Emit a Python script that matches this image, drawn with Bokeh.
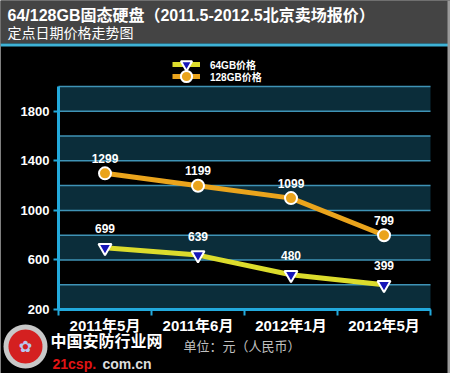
import math
from bokeh.plotting import figure
from bokeh.models import Range1d, FixedTicker, Label, BoxAnnotation, PolyAnnotation, Legend, LegendItem
from bokeh.core.properties import value
from bokeh.embed import file_html
from bokeh.resources import INLINE

# ---- data ----
categories = ["2011年5月", "2011年6月", "2012年1月", "2012年5月"]
price_64 = [699, 639, 480, 399]
price_128 = [1299, 1199, 1099, 799]
series_names = ["64GB价格", "128GB价格"]
y_tick_values = [200, 600, 1000, 1400, 1800]
grid_values = [200, 400, 600, 800, 1000, 1200, 1400, 1600, 1800, 2000]
title_text = "64/128GB固态硬盘（2011.5-2012.5北京卖场报价）"
subtitle_text = "定点日期价格走势图"
unit_text = "单位：元（人民币）"
site_name = "中国安防行业网"
site_url_a = "21csp."
site_url_b = "com.cn"

# ---- layout (pixels) & style ----
W, H = 450, 373
PL, PR, PT, PB = 58, 430, 86, 309          # plot-area box in canvas px
Y0, Y1 = grid_values[0], grid_values[-1]
CJK = "Liberation Sans, Noto Sans CJK SC"
TEAL = "#0b2d3a"
CYAN = "#22a9dc"
GRID = "#3f93b6"
YEL = "#dcdc2c"
ORG = "#eaa41c"

n = len(categories)
xs = [i + 0.5 for i in range(n)]
xpx = (PR - PL) / n
ypx = (PB - PT) / (Y1 - Y0)
x_range = Range1d(-PL / xpx, n + (W - PR) / xpx)
y_range = Range1d(Y0 - (H - PB) / ypx, Y1 + PT / ypx)

p = figure(width=W, height=H, x_range=x_range, y_range=y_range,
           output_backend="svg", toolbar_location=None,
           min_border_left=0, min_border_right=0, min_border_top=0, min_border_bottom=0,
           background_fill_color="black", border_fill_color="black", outline_line_color=None)
p.title.visible = False
p.xgrid.visible = False
p.ygrid.visible = False

# alternating bands + grid lines of the plot area
band_bottoms = grid_values[0::2]
band_tops = grid_values[1::2]
p.quad(left=0, right=n, bottom=band_bottoms, top=band_tops, fill_color=TEAL, line_color=None)
p.segment(x0=0, x1=n, y0=grid_values, y1=grid_values, line_color=GRID, line_width=1.5)

# y axis
ya = p.yaxis[0]
ya.fixed_location = 0
ya.bounds = (Y0, Y1)
ya.ticker = FixedTicker(ticks=y_tick_values)
ya.axis_line_color = CYAN
ya.axis_line_width = 3
ya.major_tick_line_color = CYAN
ya.major_tick_line_width = 2
ya.major_tick_out = 5
ya.major_tick_in = 0
ya.minor_tick_line_color = None
ya.major_label_text_color = "white"
ya.major_label_text_font = "Liberation Sans"
ya.major_label_text_font_style = "bold"
ya.major_label_text_font_size = "13px"
ya.major_label_standoff = 4

# x axis
xa = p.xaxis[0]
xa.fixed_location = Y0
xa.bounds = (0, n)
xa.ticker = FixedTicker(ticks=xs, minor_ticks=list(range(n + 1)))
xa.major_label_overrides = {x: c for x, c in zip(xs, categories)}
xa.axis_line_color = CYAN
xa.axis_line_width = 3
xa.major_tick_line_color = None
xa.major_tick_out = 0
xa.major_tick_in = 0
xa.minor_tick_line_color = CYAN
xa.minor_tick_line_width = 2
xa.minor_tick_out = 6
xa.minor_tick_in = 0
xa.major_label_text_color = "white"
xa.major_label_text_font = CJK
xa.major_label_text_font_style = "bold"
xa.major_label_text_font_size = "15px"
xa.major_label_standoff = 1

# series
l64 = p.line(xs, price_64, line_color=YEL, line_width=5)
m64 = p.scatter(xs, price_64, marker="inverted_triangle", size=13, fill_color="#1616b8",
                line_color="white", line_width=2)
l128 = p.line(xs, price_128, line_color=ORG, line_width=5)
m128 = p.scatter(xs, price_128, marker="circle", size=12, fill_color=ORG,
                 line_color="white", line_width=2)

p.text(xs, price_64, text=[str(v) for v in price_64], text_color="white",
       text_font=value("Liberation Sans"), text_font_style="bold", text_font_size="12px",
       text_align="center", text_baseline="middle", y_offset=-19)
p.text(xs, price_128, text=[str(v) for v in price_128], text_color="white",
       text_font=value("Liberation Sans"), text_font_style="bold", text_font_size="12px",
       text_align="center", text_baseline="middle", y_offset=-15)

# legend: one single-item legend per series so rows can sit close together
for name, rends, cy in ((series_names[0], [l64, m64], 64), (series_names[1], [l128, m128], 76)):
    p.add_layout(Legend(items=[LegendItem(label=name, renderers=rends)],
                        location=(172, H - cy - 15), padding=0, spacing=0, margin=0,
                        glyph_width=28, glyph_height=30, label_height=30, label_standoff=10,
                        label_text_color="white", label_text_font=CJK, label_text_font_style="bold",
                        label_text_font_size="10px", background_fill_alpha=0, border_line_color=None))


def box(left, right, top, bottom, color):
    p.add_layout(BoxAnnotation(left=left, right=right, top=top, bottom=bottom,
                               left_units="canvas", right_units="canvas",
                               top_units="canvas", bottom_units="canvas",
                               fill_color=color, fill_alpha=1, line_color=None))


def disc(cx, cy, r, color):
    k = 48
    p.add_layout(PolyAnnotation(
        xs=[cx + r * math.cos(2 * math.pi * i / k) for i in range(k)],
        ys=[H - cy + r * math.sin(2 * math.pi * i / k) for i in range(k)],
        xs_units="screen", ys_units="screen", fill_color=color, fill_alpha=1, line_color=None))


# header bar, right edge strip
box(0, W, 0, 43, "#444444")
box(0, W, 43, 46, "#3eb2d6")
box(W - 3, W, 0, H, "#9a9a9a")


def lab(text, cx, cy, size, color="white", bold=False, align="left", baseline="alphabetic", font=CJK):
    p.add_layout(Label(x=cx, y=H - cy, x_units="screen", y_units="screen", text=text,
                       text_color=color, text_font=font, text_font_size=size,
                       text_font_style="bold" if bold else "normal",
                       text_align=align, text_baseline=baseline))


lab(title_text, 7, 15, "16px", bold=True)
lab(subtitle_text, 7, 32, "14px")

# footer (logo approximated)
disc(25, 346, 22, "#c8c8c8")
disc(25, 346, 17, "#d42020")
lab("✿", 25, 346, "16px", color="#b8c8f0", align="center", baseline="middle", font="DejaVu Sans")
lab(site_name, 50, 341, "16px", bold=True, baseline="middle")
lab(site_url_a, 52, 363, "14px", color="#e01414", bold=True)
lab(site_url_b, 102, 363, "14px", color="#dddddd", bold=True)
lab(unit_text, 183, 346, "13px", color="#c0c0c0", baseline="middle")

open("out.html", "w").write(file_html(p, INLINE))
